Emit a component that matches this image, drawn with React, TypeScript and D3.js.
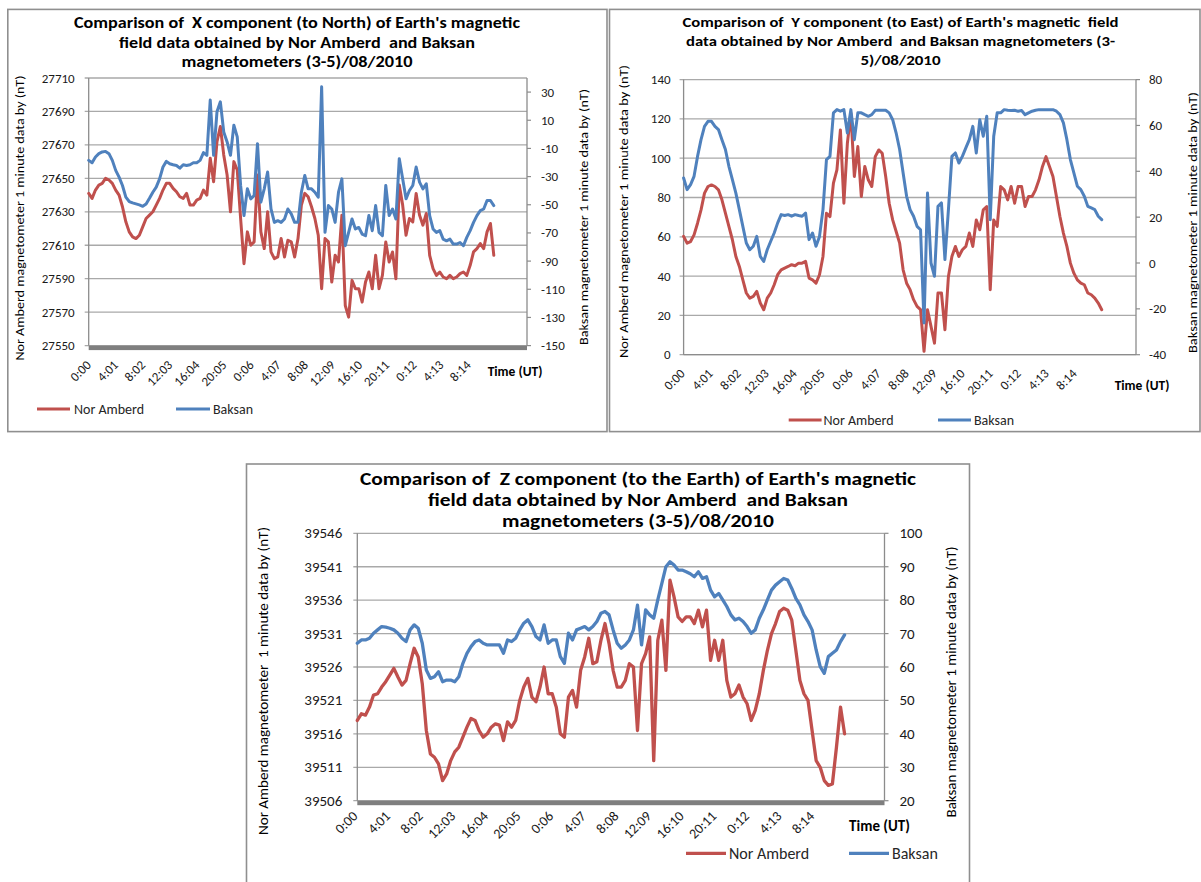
import React from "react";
import * as d3 from "d3";

// ---------- data ----------
const TICK_LABELS = ["0:00","4:01","8:02","12:03","16:04","20:05","0:06","4:07","8:08","12:09","16:10","20:11","0:12","4:13","8:14"];
const TICK_STEP_MIN = 241;      // minutes between labelled categories
const SAMPLE_STEP_MIN = 30;     // minutes between read-off samples
const AXIS_END_MIN = 3895;      // last category on the time axis

const X_NOR = [27641,27638,27643,27646,27647,27650,27649,27647,27643,27640,
27633,27624,27618,27615,27614,27616,27621,27626,27628,27630,
27634,27638,27643,27647,27647,27644,27642,27639,27638,27641,
27634,27634,27637,27638,27643,27640,27662,27648,27672,27681,
27664,27652,27630,27660,27655,27626,27599,27618,27610,27612,
27652,27618,27608,27630,27606,27602,27603,27614,27603,27613,
27612,27603,27614,27634,27641,27639,27633,27626,27616,27584,
27614,27612,27588,27604,27600,27628,27574,27567,27589,27584,
27584,27576,27588,27594,27584,27604,27584,27592,27612,27600,
27606,27590,27646,27634,27616,27626,27624,27641,27628,27622,
27629,27604,27596,27592,27594,27591,27590,27592,27590,27591,
27593,27594,27592,27598,27606,27608,27611,27608,27618,27623,
27604];
const X_BAK = [-18.5,-20.2,-16.1,-13.7,-12.5,-12.1,-13.7,-18.5,-25.6,-30.4,
-36.3,-44.6,-47.7,-48.7,-49.4,-50.1,-51.1,-49.4,-45.4,-41.1,
-37.5,-31.6,-23.2,-19.2,-20.9,-21.6,-22.1,-24.0,-21.6,-22.1,
-21.6,-20.2,-20.2,-18.5,-13.0,-14.9,24.3,-14.9,16.0,23.1,
1.7,-5.4,-14.9,6.5,-1.8,-36.3,-57.7,-38.7,-45.8,-43.5,
-6.6,-48.2,-38.7,-26.8,-53.0,-62.5,-61.3,-62.5,-60.1,-53.0,
-56.5,-62.5,-62.5,-41.1,-29.2,-38.7,-38.7,-41.1,-44.6,33.8,
-69.6,-50.6,-53.0,-62.5,-41.1,-31.6,-79.1,-69.6,-60.1,-67.2,
-66.1,-70.8,-72.0,-57.7,-68.4,-50.6,-69.6,-72.0,-36.3,-57.7,
-53.0,-60.1,-17.3,-31.6,-45.8,-39.9,-36.3,-23.2,-33.9,-38.7,
-35.1,-57.7,-67.2,-69.6,-68.4,-74.4,-75.6,-74.4,-77.9,-77.9,
-76.8,-79.1,-73.2,-68.4,-62.5,-57.7,-54.2,-53.0,-47.0,-47.0,
-50.6];

const Y_NOR = [60.2,56.8,57.6,61.0,66.9,73.7,82.2,85.6,86.4,85.6,
83.9,78.8,72.0,65.3,58.5,50.0,44.9,38.1,31.4,28.8,
29.7,32.2,26.3,22.9,28.8,31.4,35.6,40.7,43.2,44.1,
44.9,45.8,45.3,46.6,46.6,47.5,39.0,38.1,36.4,40.7,
50.0,72.0,70.3,87.3,94.1,114.4,77.1,107.6,122.9,90.7,
105.9,80.5,95.8,89.0,85.6,100.8,104.2,102.5,90.7,77.1,
68.6,62.7,56.8,43.2,36.4,33.1,28.0,24.6,22.9,1.7,
22.9,14.4,5.9,31.4,31.4,12.7,39.8,50.0,55.1,50.0,
53.4,55.1,61.9,55.1,68.6,63.6,73.7,75.4,33.1,68.6,
65.3,85.6,83.9,78.8,85.6,77.1,85.6,85.6,75.4,80.5,
80.5,83.9,89.0,95.8,100.8,95.8,90.7,80.5,70.3,61.9,
55.1,46.6,41.5,38.1,36.4,35.6,31.4,30.5,28.8,26.3,
22.9];
const Y_BAK = [37.1,32.0,34.2,37.8,46.5,53.8,59.6,61.8,61.8,59.6,
58.2,53.8,49.5,42.2,36.4,30.5,23.3,16.0,8.7,5.8,
7.3,11.6,2.9,0.7,5.8,9.5,13.1,17.5,21.1,20.7,
21.1,20.4,21.1,20.7,20.4,21.8,10.2,13.1,7.3,11.6,
23.3,45.1,46.5,65.5,66.9,66.2,66.9,56.7,66.9,53.8,
65.5,65.5,64.7,64.0,64.7,66.6,66.6,66.6,66.6,65.5,
62.5,56.7,49.5,39.3,29.1,23.3,20.4,16.0,14.5,-26.2,
30.5,0.0,-5.8,24.7,26.2,1.5,23.3,46.5,48.0,43.6,
46.5,50.2,53.8,59.6,48.0,62.5,55.3,64.0,18.9,55.3,
65.5,65.5,66.9,66.6,66.5,66.6,66.2,66.5,64.7,65.5,
66.2,66.6,66.9,66.9,66.9,66.9,66.9,66.2,64.7,61.1,
53.8,45.1,39.3,33.5,32.0,29.1,24.7,24.0,23.3,20.4,
18.9];

const Z_NOR = [39518.0,39519.0,39518.8,39520.0,39521.8,39522.0,39523.0,39523.8,39524.8,39525.8,
39524.5,39523.3,39524.0,39526.5,39528.8,39527.5,39523.5,39516.5,39513.0,39512.5,
39511.5,39509.0,39510.0,39512.0,39513.3,39514.0,39515.5,39517.0,39518.3,39518.0,
39516.5,39515.5,39516.0,39517.0,39517.5,39517.3,39515.0,39517.8,39517.0,39518.0,
39521.0,39523.0,39524.3,39521.5,39520.8,39523.0,39526.0,39522.0,39522.0,39520.0,
39516.0,39515.5,39521.5,39522.5,39520.0,39525.5,39527.5,39530.3,39526.5,39526.8,
39530.0,39532.5,39529.5,39525.5,39523.0,39523.0,39524.0,39526.5,39526.0,39516.5,
39526.5,39528.0,39530.5,39512.0,39530.0,39533.0,39525.5,39539.0,39536.5,39533.5,
39532.8,39533.5,39533.5,39532.5,39534.5,39532.0,39534.5,39527.0,39530.0,39527.0,
39530.0,39524.0,39521.5,39522.0,39523.3,39521.5,39520.5,39518.0,39519.5,39522.0,
39525.5,39528.5,39531.0,39532.5,39534.3,39534.8,39534.5,39533.0,39528.5,39524.0,
39522.0,39521.0,39516.5,39512.0,39511.0,39509.0,39508.3,39508.5,39514.0,39520.0,
39516.0];
const Z_BAK = [67.1,68.1,68.1,68.6,70.1,71.1,72.1,71.9,71.6,71.1,
70.1,68.6,67.6,71.1,72.6,71.6,67.1,59.1,56.6,57.1,
58.6,55.6,56.1,56.1,55.6,57.1,61.1,64.1,66.1,67.6,
68.1,67.1,66.6,66.6,66.6,66.6,64.1,68.1,67.6,68.6,
71.1,73.1,74.1,72.1,69.1,68.1,72.6,67.1,68.1,68.1,
63.1,61.1,70.1,68.1,71.1,71.6,72.1,71.1,72.1,73.6,
76.1,76.6,75.6,71.1,67.1,65.6,66.6,68.1,71.1,78.5,
66.6,77.1,75.6,74.6,80.1,85.0,90.0,91.5,90.5,89.0,
89.0,88.5,87.9,87.0,88.5,86.5,87.0,83.0,81.0,82.0,
80.1,78.1,75.6,74.1,74.6,73.6,72.1,70.1,71.1,74.6,
77.1,80.1,83.0,84.5,85.5,86.5,86.0,83.5,80.5,78.6,
75.6,73.6,71.1,65.1,60.1,58.1,63.1,64.1,65.1,67.6,
69.6];

const X_LEFT_TICKS = [27550,27570,27590,27610,27630,27650,27670,27690,27710];
const X_RIGHT_TICKS = [-150,-130,-110,-90,-70,-50,-30,-10,10,30];
const Y_LEFT_TICKS = [0,20,40,60,80,100,120,140];
const Y_RIGHT_TICKS = [-40,-20,0,20,40,60,80];
const Z_LEFT_TICKS = [39506,39511,39516,39521,39526,39531,39536,39541,39546];
const Z_RIGHT_TICKS = [20,30,40,50,60,70,80,90,100];

const SERIES_NAMES = ["Nor Amberd", "Baksan"];
const LEFT_AXIS_TITLE = "Nor Amberd magnetometer 1 minute data by (nT)";
const LEFT_AXIS_TITLE_Z = "Nor Amberd magnetometer  1 minute data by (nT)";
const RIGHT_AXIS_TITLE = "Baksan magnetometer 1 minute data by (nT)";
const TIME_TITLE = "Time (UT)";

const RED = "#C0504D";
const BLUE = "#4F81BD";
const FONT = "Carlito, Calibri, Lato, 'Liberation Sans', sans-serif";

type Cfg = {
  frame: [number, number, number, number];
  plot: { x0: number; x1: number; y0: number; y1: number };
  leftDomain: [number, number]; leftTicks: number[];
  rightDomain: [number, number]; rightTicks: number[];
  nor: number[]; bak: number[];
  title: string[]; titleCx: number; titleYs: number[]; titleSize: number; titleW: number[];
  leftTitle: string; leftTitleX: number; leftTitleCy: number; leftTitleLen: number;
  rightTitleX: number; rightTitleCy: number; rightTitleLen: number; axisTitleSize: number;
  tickSize: number; tickGap: number; xTickSize: number; xLblDx: number; xLblDy: number;
  thickBar: boolean; timeCx: number; timeCy: number; timeSize: number;
  legendY: number; leg: [number, number, number, number, number, number]; legendSize: number;
  lineW: number;
};

function Panel({ c }: { c: Cfg }) {
  const { x0, x1, y0, y1 } = c.plot;
  const xs = d3.scaleLinear().domain([0, AXIS_END_MIN]).range([x0, x1]);
  const yl = d3.scaleLinear().domain(c.leftDomain).range([y1, y0]);
  const yr = d3.scaleLinear().domain(c.rightDomain).range([y1, y0]);
  const lineL = d3.line<number>().x((_, i) => xs(i * SAMPLE_STEP_MIN)).y((v) => yl(v)).curve(d3.curveLinear);
  const lineR = d3.line<number>().x((_, i) => xs(i * SAMPLE_STEP_MIN)).y((v) => yr(v)).curve(d3.curveLinear);
  const [fx, fy, fw, fh] = c.frame;
  return (
    <g fontFamily={FONT}>
      <rect x={fx} y={fy} width={fw} height={fh} fill="#fff" stroke="#8f8f8f" strokeWidth={1.6} />
      {c.title.map((t, i) => (
        <text key={i} x={c.titleCx} y={c.titleYs[i]} textAnchor="middle" dominantBaseline="central"
          fontWeight="bold" fontSize={c.titleSize} fill="#000" style={{ whiteSpace: "pre" }}
          textLength={c.titleW[i]} lengthAdjust="spacingAndGlyphs">{t}</text>
      ))}
      {/* gridlines */}
      {c.leftTicks.map((t) => (
        <line key={"g" + t} x1={x0 - 4} x2={x1} y1={yl(t)} y2={yl(t)} stroke="#a9a9a9" strokeWidth={1.3} />
      ))}
      {/* axes */}
      <line x1={x0} x2={x0} y1={y0} y2={y1} stroke="#8c8c8c" strokeWidth={1.3} />
      <line x1={x1} x2={x1} y1={y0} y2={y1} stroke="#8c8c8c" strokeWidth={1.3} />
      {c.rightTicks.map((t) => (
        <line key={"rt" + t} x1={x1} x2={x1 + 4} y1={yr(t)} y2={yr(t)} stroke="#8c8c8c" strokeWidth={1.2} />
      ))}
      {c.thickBar ? (
        <rect x={x0} y={y1} width={x1 - x0} height={4.5} fill="#7f7f7f" />
      ) : (
        <line x1={x0} x2={x1} y1={y1} y2={y1} stroke="#8c8c8c" strokeWidth={1.3} />
      )}
      {/* left tick labels */}
      {c.leftTicks.map((t) => (
        <text key={"l" + t} x={x0 - c.tickGap} y={yl(t)} textAnchor="end" dominantBaseline="central"
          fontSize={c.tickSize} fill="#1a1a1a">{t}</text>
      ))}
      {c.rightTicks.map((t) => (
        <text key={"r" + t} x={x1 + c.tickGap} y={yr(t)} textAnchor="start" dominantBaseline="central"
          fontSize={c.tickSize} fill="#1a1a1a">{t}</text>
      ))}
      {/* time labels */}
      {TICK_LABELS.map((lab, k) => {
        const tx = xs(k * TICK_STEP_MIN) + c.xLblDx;
        const ty = y1 + c.xLblDy;
        return (
          <text key={"x" + k} transform={`translate(${tx},${ty}) rotate(-45)`} textAnchor="end"
            dominantBaseline="central" fontSize={c.xTickSize} fill="#1a1a1a">{lab}</text>
        );
      })}
      {/* series */}
      <path d={lineL(c.nor) || ""} fill="none" stroke={RED} strokeWidth={c.lineW} strokeLinejoin="round" strokeLinecap="round" />
      <path d={lineR(c.bak) || ""} fill="none" stroke={BLUE} strokeWidth={c.lineW} strokeLinejoin="round" strokeLinecap="round" />
      {/* axis titles */}
      <text transform={`translate(${c.leftTitleX},${c.leftTitleCy}) rotate(-90)`} textAnchor="middle"
        dominantBaseline="central" fontSize={c.axisTitleSize} fill="#000" style={{ whiteSpace: "pre" }}
        textLength={c.leftTitleLen} lengthAdjust="spacingAndGlyphs">{c.leftTitle}</text>
      <text transform={`translate(${c.rightTitleX},${c.rightTitleCy}) rotate(-90)`} textAnchor="middle"
        dominantBaseline="central" fontSize={c.axisTitleSize} fill="#000"
        textLength={c.rightTitleLen} lengthAdjust="spacingAndGlyphs">{RIGHT_AXIS_TITLE}</text>
      <text x={c.timeCx} y={c.timeCy} textAnchor="middle" dominantBaseline="central" fontWeight="bold"
        fontSize={c.timeSize} fill="#000">{TIME_TITLE}</text>
      {/* legend */}
      <line x1={c.leg[0]} x2={c.leg[1]} y1={c.legendY} y2={c.legendY} stroke={RED} strokeWidth={c.lineW} />
      <text x={c.leg[2]} y={c.legendY} dominantBaseline="central" fontSize={c.legendSize} fill="#262626">{SERIES_NAMES[0]}</text>
      <line x1={c.leg[3]} x2={c.leg[4]} y1={c.legendY} y2={c.legendY} stroke={BLUE} strokeWidth={c.lineW} />
      <text x={c.leg[5]} y={c.legendY} dominantBaseline="central" fontSize={c.legendSize} fill="#262626">{SERIES_NAMES[1]}</text>
    </g>
  );
}

const PANELS: Cfg[] = [
  {
    frame: [7.8, 9.4, 599.2, 422.2],
    plot: { x0: 88.7, x1: 527, y0: 78, y1: 345.6 },
    leftDomain: [27550, 27710], leftTicks: X_LEFT_TICKS,
    rightDomain: [-150, 40], rightTicks: X_RIGHT_TICKS,
    nor: X_NOR, bak: X_BAK,
    title: ["Comparison of  X component (to North) of Earth's magnetic", "field data obtained by Nor Amberd  and Baksan", "magnetometers (3-5)/08/2010"],
    titleCx: 297, titleYs: [22.8, 42.8, 61.9], titleSize: 15, titleW: [446, 356, 231],
    leftTitle: LEFT_AXIS_TITLE, leftTitleX: 19.5, leftTitleCy: 218, leftTitleLen: 285,
    rightTitleX: 583.5, rightTitleCy: 217, rightTitleLen: 256, axisTitleSize: 13,
    tickSize: 13, tickGap: 14, xTickSize: 13, xLblDx: 0, xLblDy: 17,
    thickBar: true, timeCx: 515, timeCy: 371, timeSize: 13.5,
    legendY: 409, leg: [37, 70, 74, 176, 210, 213], legendSize: 14, lineW: 3,
  },
  {
    frame: [609.5, 9.4, 590.5, 422.2],
    plot: { x0: 683.6, x1: 1136, y0: 79.6, y1: 354.7 },
    leftDomain: [0, 140], leftTicks: Y_LEFT_TICKS,
    rightDomain: [-40, 80], rightTicks: Y_RIGHT_TICKS,
    nor: Y_NOR, bak: Y_BAK,
    title: ["Comparison of  Y component (to East) of Earth's magnetic  field", "data obtained by Nor Amberd  and Baksan magnetometers (3-", "5)/08/2010"],
    titleCx: 900.5, titleYs: [22.7, 41.8, 60.9], titleSize: 14, titleW: [436, 429, 80],
    leftTitle: LEFT_AXIS_TITLE, leftTitleX: 623, leftTitleCy: 211.5, leftTitleLen: 293,
    rightTitleX: 1192, rightTitleCy: 222.5, rightTitleLen: 261, axisTitleSize: 13,
    tickSize: 13, tickGap: 13, xTickSize: 13, xLblDx: -1, xLblDy: 16.5,
    thickBar: false, timeCx: 1142, timeCy: 385.5, timeSize: 13.5,
    legendY: 420, leg: [788.7, 821.6, 823.5, 938, 971, 974], legendSize: 14, lineW: 3,
  },
  {
    frame: [246.5, 464, 723, 430],
    plot: { x0: 357.3, x1: 884.5, y0: 533.3, y1: 800.7 },
    leftDomain: [39506, 39546], leftTicks: Z_LEFT_TICKS,
    rightDomain: [20, 100], rightTicks: Z_RIGHT_TICKS,
    nor: Z_NOR, bak: Z_BAK,
    title: ["Comparison of  Z component (to the Earth) of Earth's magnetic", "field data obtained by Nor Amberd  and Baksan", "magnetometers (3-5)/08/2010"],
    titleCx: 638, titleYs: [479.3, 500.7, 521.7], titleSize: 17, titleW: [556, 420, 272],
    leftTitle: LEFT_AXIS_TITLE_Z, leftTitleX: 263, leftTitleCy: 681, leftTitleLen: 308,
    rightTitleX: 950.6, rightTitleCy: 682, rightTitleLen: 271, axisTitleSize: 14.5,
    tickSize: 15, tickGap: 15, xTickSize: 14, xLblDx: -2, xLblDy: 13,
    thickBar: true, timeCx: 879.5, timeCy: 826, timeSize: 15,
    legendY: 853.3, leg: [686, 726, 729, 849, 889, 892], legendSize: 16, lineW: 3.3,
  },
];

export default function App() {
  return (
    <svg width={1201} height={882} viewBox="0 0 1201 882"
      style={{ position: "absolute", left: 0, top: 0, display: "block", background: "#fff" }}>
      <rect x={0} y={0} width={1201} height={882} fill="#fff" />
      {PANELS.map((c, i) => (
        <Panel key={i} c={c} />
      ))}
    </svg>
  );
}
